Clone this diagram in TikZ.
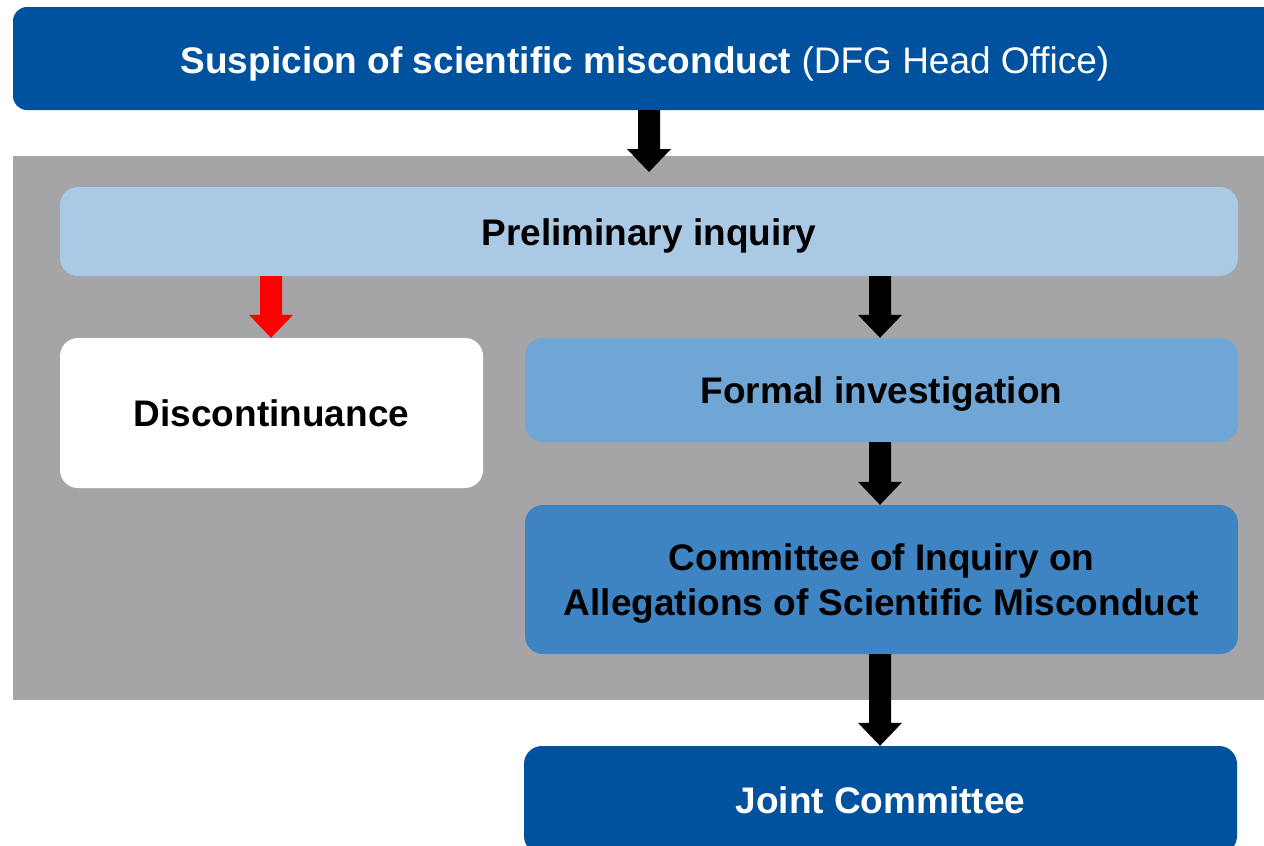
\documentclass[tikz,border=0pt]{standalone}
\usepackage{fontspec}
\setmainfont{Liberation Sans}
\usetikzlibrary{calc}
\definecolor{dfgdark}{RGB}{0,81,158}
\definecolor{dfglight}{RGB}{169,201,229}
\definecolor{dfgmid}{RGB}{111,166,213}
\definecolor{dfgdeep}{RGB}{62,131,194}
\definecolor{panelgray}{RGB}{165,164,166}
\newcommand\blockarrow[4]{% colour, x, from, to
  \fill[#1] let \p1=(#3), \p2=(#4) in
    (#2-11,\y1) -- (#2+11,\y1) -- (#2+11,\y2+23pt) -- (#2+22,\y2+23pt)
    -- (#2,\y2) -- (#2-22,\y2+23pt) -- (#2-11,\y2+23pt) -- cycle;}
\begin{document}
\begin{tikzpicture}[x=1pt,y=-1pt,
  box/.style={rounded corners=18pt, inner sep=0pt, font=\fontsize{37}{45}\selectfont\bfseries,
    text height=27pt, text depth=0pt, align=center},
]
\useasboundingbox (0,0) rectangle (1264,846);
\clip (0,0) rectangle (1264,846);
% grey panel
\fill[panelgray] (13,156) rectangle (1264,700);
% top box
\node[box, fill=dfgdark, text=white, rounded corners=14pt, minimum width=1264pt, minimum height=103pt, text height=30pt]
  (top) at (645,58.5) {Suspicion of scientific misconduct \mdseries(DFG Head Office)};
\node[box, fill=dfglight, minimum width=1178pt, minimum height=89pt] (prelim) at (649,231.5) {Preliminary inquiry};
\node[box, fill=white, minimum width=423pt, minimum height=150pt] (disc) at (271.5,413) {Discontinuance};
\node[box, fill=dfgmid, minimum width=713pt, minimum height=104pt] (formal) at (881.5,390) {Formal investigation};
\node[box, fill=dfgdeep, minimum width=713pt, minimum height=149pt, text height=, text depth=] (comm) at (881.5,579.5)
  {\rule{0pt}{35pt}Committee of Inquiry on\\Allegations of Scientific Misconduct};
\node[box, fill=dfgdark, text=white, minimum width=713pt, minimum height=108pt] (joint) at (880.5,800) {Joint Committee};
\coordinate (tip1) at (649,172);
% arrows
\blockarrow{black}{649}{top.south}{tip1}
\blockarrow{red}{271}{prelim.south -| disc.north}{disc.north}
\blockarrow{black}{880}{prelim.south -| formal.north}{formal.north}
\blockarrow{black}{880}{formal.south}{comm.north}
\blockarrow{black}{880}{comm.south}{joint.north}
\end{tikzpicture}
\end{document}
